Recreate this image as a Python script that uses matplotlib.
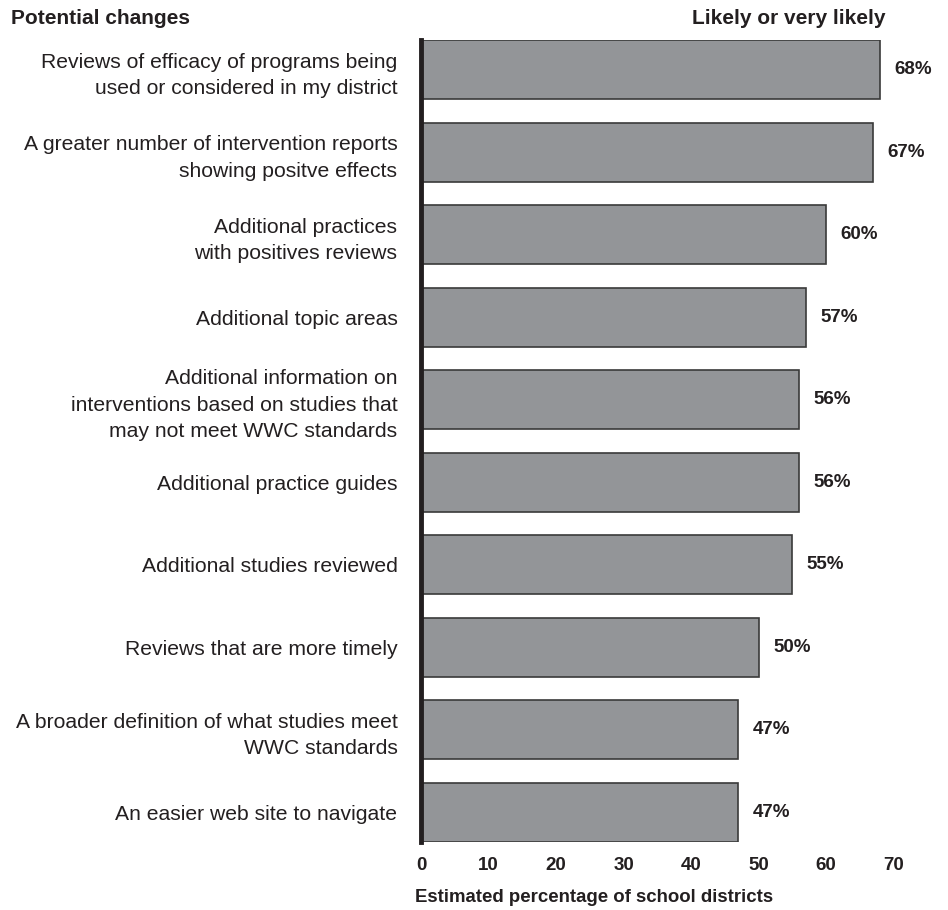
import matplotlib
matplotlib.use("Agg")
import matplotlib.pyplot as plt
import numpy as np

categories = [
    "Reviews of efficacy of programs being\nused or considered in my district",
    "A greater number of intervention reports\nshowing positve effects",
    "Additional practices\nwith positives reviews",
    "Additional topic areas",
    "Additional information on\ninterventions based on studies that\nmay not meet WWC standards",
    "Additional practice guides",
    "Additional studies reviewed",
    "Reviews that are more timely",
    "A broader definition of what studies meet\nWWC standards",
    "An easier web site to navigate",
]
values = [68, 67, 60, 57, 56, 56, 55, 50, 47, 47]
xticks = [0, 10, 20, 30, 40, 50, 60, 70]

plt.rcParams['font.family'] = ['Liberation Sans', 'DejaVu Sans']

W, H = 948, 910
fig = plt.figure(figsize=(W / 100, H / 100), dpi=100)

x0 = 421
ppu = 6.75
xmax = 76
ax_left = x0 / W
ax_width = xmax * ppu / W
ax_top = 40
ax_bot = 842
ax = fig.add_axes([ax_left, 1 - ax_bot / H, ax_width, (ax_bot - ax_top) / H])

bar_h = 0.72
y = np.arange(len(values))
ax.barh(y, values, height=bar_h, color='#939598', edgecolor='#3a3a3a', linewidth=1.2, zorder=2)
ax.set_ylim(len(values) - 1 + bar_h / 2, -bar_h / 2)
ax.set_xlim(0, xmax)

for i, v in enumerate(values):
    ax.annotate(f"{v}%", xy=(v, i), xytext=(10.5, 0), textcoords='offset points',
                ha='left', va='center', fontsize=13.5, fontweight='bold', color='#231f20')

ax.set_yticks(y)
ax.set_yticklabels(categories, fontsize=15.2, color='#231f20', linespacing=1.5)
ax.tick_params(axis='y', length=0, pad=17)
ax.set_xticks(xticks)
ax.set_xticklabels([str(t) for t in xticks], fontsize=13.5, fontweight='bold', color='#231f20')
ax.tick_params(axis='x', length=0, pad=11)

for s in ['top', 'right', 'bottom']:
    ax.spines[s].set_visible(False)
ax.spines['left'].set_linewidth(3.5)
ax.spines['left'].set_color('#231f20')
ax.spines['left'].set_zorder(3)

fig.text(11 / W, 1 - 19 / H, "Potential changes", ha='left', va='center',
         fontsize=15, fontweight='bold', color='#231f20')
fig.text(885 / W, 1 - 19 / H, "Likely or very likely", ha='right', va='center',
         fontsize=15, fontweight='bold', color='#231f20')
fig.text(415 / W, 1 - 898 / H, "Estimated percentage of school districts", ha='left', va='center',
         fontsize=13.4, fontweight='bold', color='#231f20')

fig.savefig("out.png", dpi=100, facecolor='white')
